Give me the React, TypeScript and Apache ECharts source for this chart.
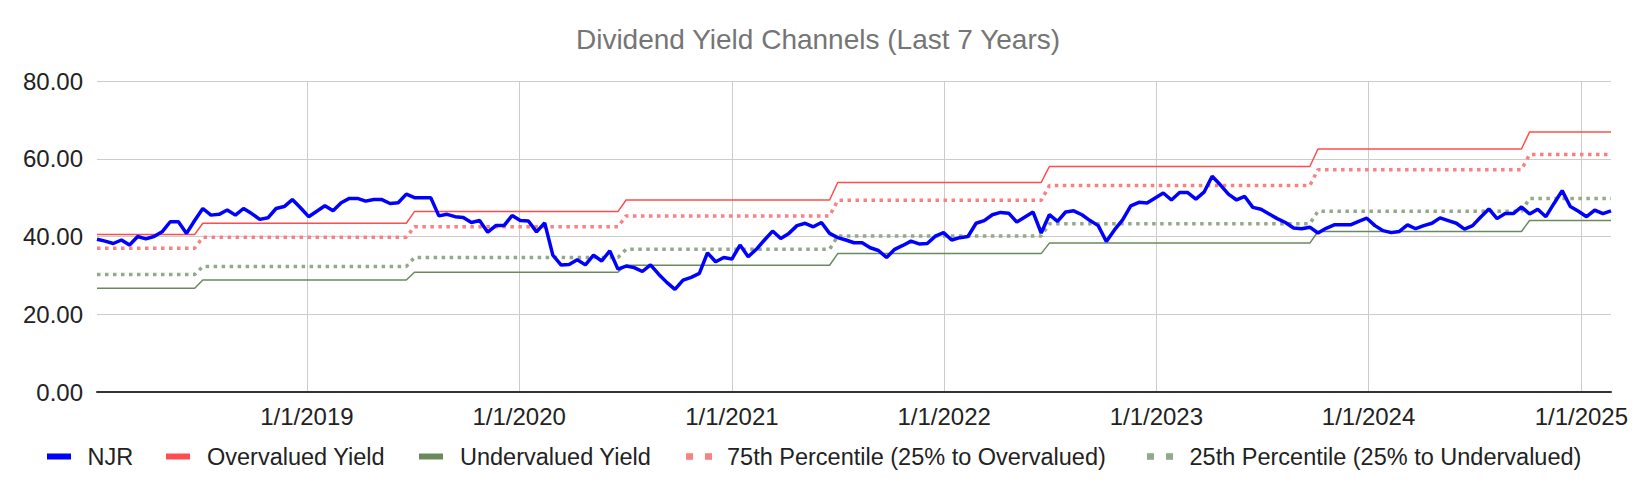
import React, { useEffect, useRef } from "react";
import * as echarts from "echarts";

// ---- data ----
const TITLE = "Dividend Yield Channels (Last 7 Years)";
const SERIES_NAMES = [
  "NJR",
  "Overvalued Yield",
  "Undervalued Yield",
  "75th Percentile (25% to Overvalued)",
  "25th Percentile (25% to Undervalued)",
];
const SERIES_COLORS = ["#0000ff", "#ff4d4d", "#6a8a5c", "#f98181", "#93a98b"];
const SERIES_DOTTED = [false, false, false, true, true];

// NJR dividend yield, bi-weekly samples starting 2018-01-05
const NJR_START = [2018, 0, 5];
const NJR_STEP_DAYS = 14;
const njrYield = [
  39.3, 38.8, 38.2, 39.1, 37.8, 40.0, 39.4, 40.0, 41.2, 43.8,
  43.8, 40.8, 44.1, 47.2, 45.5, 45.7, 46.8, 45.5, 47.2, 45.9,
  44.4, 44.8, 47.2, 47.7, 49.5, 47.4, 45.1, 46.5, 47.9, 46.6,
  48.7, 49.8, 49.8, 49.1, 49.5, 49.5, 48.5, 48.7, 50.9, 50.0,
  50.0, 50.0, 45.3, 45.7, 45.1, 44.9, 43.6, 44.1, 41.1, 42.8,
  42.8, 45.4, 44.1, 44.0, 41.2, 43.5, 35.2, 32.7, 32.8, 34.0,
  32.7, 35.2, 33.7, 36.3, 31.6, 32.4, 32.0, 31.0, 32.7, 30.3,
  28.2, 26.4, 28.8, 29.5, 30.5, 35.8, 33.5, 34.6, 34.2, 37.8,
  34.8, 36.7, 39.1, 41.4, 39.5, 40.8, 42.8, 43.4, 42.5, 43.6,
  40.8, 39.7, 39.1, 38.4, 38.4, 37.1, 36.4, 34.6, 36.7, 37.7,
  38.8, 38.1, 38.2, 40.1, 41.0, 39.1, 39.7, 40.0, 43.4, 44.1,
  45.6, 46.2, 46.0, 43.7, 45.0, 46.3, 40.9, 45.6, 43.9, 46.3,
  46.6, 45.6, 44.1, 42.8, 38.7, 41.7, 44.3, 47.9, 48.8, 48.6,
  49.9, 51.2, 49.4, 51.3, 51.3, 49.6, 51.4, 55.5, 53.3, 50.9,
  49.4, 50.3, 47.5, 47.0, 45.8, 44.6, 43.6, 42.2, 42.0, 42.4,
  40.9, 42.1, 43.0, 43.0, 43.0, 43.9, 44.7, 42.8, 41.5, 41.0,
  41.3, 43.0, 42.0, 42.8, 43.4, 44.8, 44.1, 43.4, 41.9, 42.8,
  45.0, 47.1, 44.6, 45.9, 45.9, 47.6, 45.8, 47.0, 45.1, 48.5,
  51.8, 47.7, 46.5, 45.1, 46.8, 45.9, 46.6,
];

// Channel break points (each yearly level starts and ends at these dates)
const channelDates = [
  "2018-01-05", "2018-06-22", "2018-07-06", "2019-06-21",
  "2019-07-05", "2020-06-19", "2020-07-03", "2021-06-18",
  "2021-07-02", "2022-06-17", "2022-07-01", "2023-09-22",
  "2023-10-06", "2024-09-20", "2024-10-04", "2025-02-21",
];
const overvalued = [
  40.5, 40.5, 43.4, 43.4, 46.4, 46.4, 49.4, 49.4,
  53.9, 53.9, 58.0, 58.0, 62.5, 62.5, 66.9, 66.9,
];
const undervalued = [
  26.7, 26.7, 28.8, 28.8, 30.8, 30.8, 32.6, 32.6,
  35.6, 35.6, 38.3, 38.3, 41.3, 41.3, 44.1, 44.1,
];
const pct75 = [
  37.0, 37.0, 39.8, 39.8, 42.5, 42.5, 45.3, 45.3,
  49.3, 49.3, 53.1, 53.1, 57.2, 57.2, 61.1, 61.1,
];
const pct25 = [
  30.2, 30.2, 32.3, 32.3, 34.6, 34.6, 36.7, 36.7,
  40.1, 40.1, 43.3, 43.3, 46.5, 46.5, 49.8, 49.8,
];

const Y_MIN = 0;
const Y_MAX = 80;
const Y_INTERVAL = 20;
const X_MIN = "2018-01-05";
const X_MAX = "2025-02-21";

const FONT = "'Liberation Sans', Arial, sans-serif";

// legend layout (pixels)
const LEGEND_Y = 456.5;
const LEGEND_ICON_X = [47, 166, 419, 686, 1147];
const LEGEND_TEXT_X = [87.5, 207, 460, 727, 1189.5];

function parseLocal(s: string): number {
  const [y, m, d] = s.split("-").map(Number);
  return new Date(y, m - 1, d).getTime();
}

function njrPairs() {
  const start = new Date(NJR_START[0], NJR_START[1], NJR_START[2]);
  return njrYield.map((v, i) => {
    const d = new Date(start.getFullYear(), start.getMonth(), start.getDate() + i * NJR_STEP_DAYS);
    return [d.getTime(), v];
  });
}

function channelPairs(vals: number[]) {
  return channelDates.map((d, i) => [parseLocal(d), vals[i]]);
}

function legendGraphics() {
  const els: any[] = [];
  SERIES_NAMES.forEach((name, i) => {
    const color = SERIES_COLORS[i];
    const x = LEGEND_ICON_X[i];
    if (SERIES_DOTTED[i]) {
      els.push({ type: "rect", silent: true, shape: { x, y: LEGEND_Y - 3.3, width: 7, height: 6.6 }, style: { fill: color } });
      els.push({ type: "rect", silent: true, shape: { x: x + 19, y: LEGEND_Y - 3.3, width: 7, height: 6.6 }, style: { fill: color } });
    } else {
      els.push({ type: "rect", silent: true, shape: { x, y: LEGEND_Y - 3, width: 24, height: 6 }, style: { fill: color } });
    }
    els.push({
      type: "text",
      silent: true,
      x: LEGEND_TEXT_X[i],
      y: LEGEND_Y,
      style: {
        text: name,
        fontSize: 23.5,
        fontFamily: FONT,
        fill: "#222222",
        align: "left",
        verticalAlign: "middle",
      },
    });
  });
  return els;
}

export default function App() {
  const ref = useRef<HTMLDivElement>(null);

  useEffect(() => {
    if (!ref.current) return;
    const chart = echarts.init(ref.current, undefined, { renderer: "svg" });
    const lineSeries = (idx: number, data: any[], width: number, z: number) => ({
      name: SERIES_NAMES[idx],
      type: "line",
      data,
      showSymbol: false,
      symbol: "none",
      color: SERIES_COLORS[idx],
      lineStyle: {
        color: SERIES_COLORS[idx],
        width,
        type: SERIES_DOTTED[idx] ? [3.5, 4.5] : "solid",
      },
      z,
    });
    chart.setOption({
      animation: false,
      backgroundColor: "#ffffff",
      textStyle: { fontFamily: FONT },
      title: {
        text: TITLE,
        left: "center",
        top: 20,
        textStyle: { fontSize: 28, fontWeight: "normal", color: "#757575", fontFamily: FONT },
      },
      graphic: { elements: legendGraphics() },
      grid: { left: 97, right: 25, top: 81, bottom: 102, containLabel: false },
      xAxis: {
        type: "time",
        min: parseLocal(X_MIN),
        max: parseLocal(X_MAX),
        splitNumber: 7,
        axisLine: { show: true, lineStyle: { color: "#333333", width: 2 } },
        axisTick: { show: false },
        splitLine: { show: true, showMinLine: false, showMaxLine: false, lineStyle: { color: "#cccccc", width: 1 } },
        axisLabel: {
          fontSize: 24,
          color: "#222222",
          fontFamily: FONT,
          margin: 12,
          showMinLabel: false,
          showMaxLabel: false,
          hideOverlap: false,
          formatter: (v: number) => {
            const d = new Date(v);
            return `${d.getMonth() + 1}/${d.getDate()}/${d.getFullYear()}`;
          },
        },
      },
      yAxis: {
        type: "value",
        min: Y_MIN,
        max: Y_MAX,
        interval: Y_INTERVAL,
        axisLine: { show: false },
        axisTick: { show: false },
        splitLine: { show: true, lineStyle: { color: "#cccccc", width: 1 } },
        axisLabel: {
          fontSize: 24,
          color: "#222222",
          fontFamily: FONT,
          margin: 14,
          formatter: (v: number) => v.toFixed(2),
        },
      },
      series: [
        lineSeries(0, njrPairs(), 3.5, 5),
        lineSeries(1, channelPairs(overvalued), 1.5, 3),
        lineSeries(2, channelPairs(undervalued), 1.5, 3),
        lineSeries(3, channelPairs(pct75), 3.5, 2),
        lineSeries(4, channelPairs(pct25), 3.5, 2),
      ],
    });
    return () => chart.dispose();
  }, []);

  return (
    <div
      ref={ref}
      style={{ position: "fixed", left: 0, top: 0, width: 1636, height: 494, background: "#fff" }}
    />
  );
}
